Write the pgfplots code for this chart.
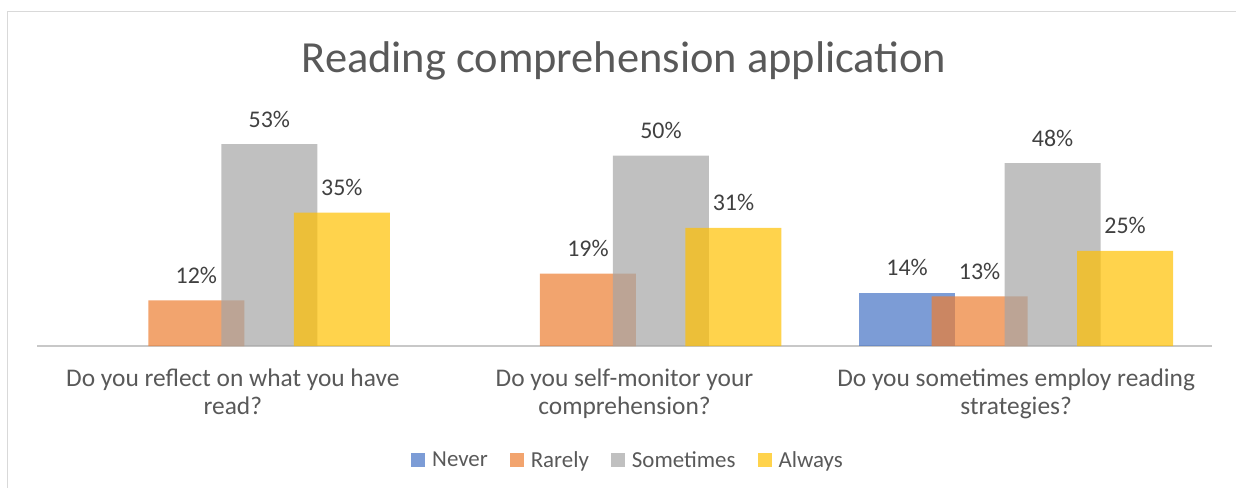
\documentclass[border=0pt]{standalone}
\usepackage{fontspec}
\setmainfont{Carlito}
\usepackage{pgfplots}
\pgfplotsset{compat=1.18}
\definecolor{cNever}{HTML}{4472C4}
\definecolor{cRarely}{HTML}{ED7D31}
\definecolor{cSome}{HTML}{A5A5A5}
\definecolor{cAlways}{HTML}{FFC000}
\definecolor{txt}{HTML}{595959}
\definecolor{lbl}{HTML}{404040}
\definecolor{axl}{HTML}{C8C8C8}
\definecolor{brd}{HTML}{D9D9D9}
\pgfplotsset{
  mybar/.style={ybar, bar width=96bp, draw=none, fill=#1, fill opacity=0.7,
    legend image code/.code={\fill[#1, fill opacity=0.7] (0bp,-7bp) rectangle (14bp,7bp);}},
}
\begin{document}
\begin{tikzpicture}
\draw[brd, line width=1bp] (7bp,0bp) -- (7bp,476bp) -- (1240bp,476bp);
\node[anchor=base, txt, font=\fontsize{44.6}{50}\selectfont] at (624bp,415bp) {Reading comprehension application};
\begin{axis}[
  at={(37bp,142bp)}, anchor=south west,
  scale only axis, width=1175bp, height=228.6bp,
  xmin=-0.5, xmax=2.5, ymin=0, ymax=60,
  axis y line=none,
  axis x line*=bottom,
  x axis line style={axl, line width=2bp, -},
  xtick={0,1,2},
  xticklabels={{Do you reflect on what you have\\read?},{Do you self-monitor your\\comprehension?},{Do you sometimes employ reading\\strategies?}},
  xticklabel style={align=center, txt, font=\fontsize{25.5}{27.5}\selectfont, anchor=north, inner sep=0pt, yshift=-23bp},
  major tick length=0pt,
  ytick=\empty,
  clip=false,
  nodes near coords={\pgfmathprintnumber[assume math mode=true]{\pgfplotspointmeta}\%},
  every node near coord/.append style={anchor=base, yshift=17bp, text opacity=1, lbl, font=\fontsize{24}{28}\selectfont},
  legend style={at={(0.503,-0.4987)}, anchor=center, draw=none, fill=none,
    legend columns=-1, font=\fontsize{23}{27}\selectfont, text=txt,
    /tikz/every odd column/.append style={column sep=5bp},
    /tikz/every even column/.append style={column sep=20bp},
    legend cell align=left},
]
\addplot[mybar=cNever, bar shift=-109bp, every node near coord/.append style={xshift=-109bp}] coordinates {(2,14)};
\addplot[mybar=cRarely, bar shift=-36.5bp, every node near coord/.append style={xshift=-36.5bp}] coordinates {(0,12) (1,19) (2,13)};
\addplot[mybar=cSome, bar shift=36.5bp, every node near coord/.append style={xshift=36.5bp}] coordinates {(0,53) (1,50) (2,48)};
\addplot[mybar=cAlways, bar shift=109bp, every node near coord/.append style={xshift=109bp}] coordinates {(0,35) (1,31) (2,25)};
\legend{Never,Rarely,Sometimes,Always}
\end{axis}
\pgfresetboundingbox
\useasboundingbox (0bp,0bp) rectangle (1236bp,488bp);
\end{tikzpicture}
\end{document}
